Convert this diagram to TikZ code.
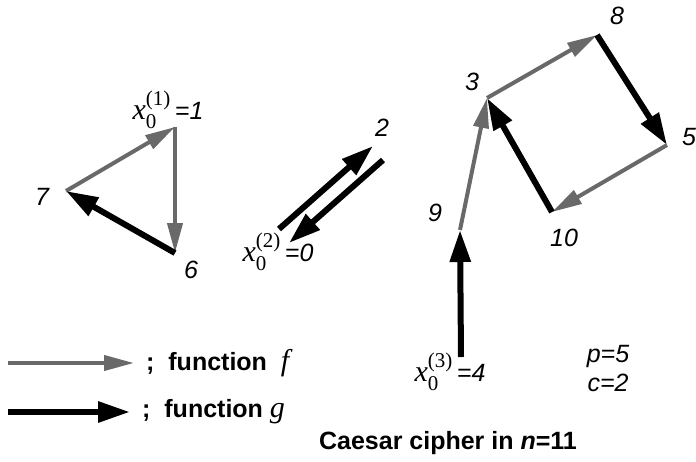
\documentclass[tikz,border=0pt]{standalone}
\usepackage{amsmath}
\usepackage{fontspec}
\setmainfont{Liberation Sans}
\newfontfamily\tms{Liberation Serif}
\definecolor{fgray}{RGB}{105,105,105}
\usetikzlibrary{arrows.meta,positioning}
\newcommand{\xstart}[1]{{\fontsize{30}{30}\selectfont$\text{\tms\mdseries\itshape x}_{\text{\tms\mdseries\upshape 0}}^{\text{\tms\mdseries\upshape(#1)}}$}}
\newcommand{\mapname}[1]{{\fontsize{30}{30}\selectfont\tms\mdseries\itshape #1}}

\begin{document}
\begin{tikzpicture}[x=1pt,y=-1pt,
  fmap/.style={fgray,line width=4pt,-{Triangle[length=30pt,width=15pt]}},
  gmap/.style={black,line width=6pt,-{Triangle[length=32pt,width=20pt]}},
  num/.style={font=\fontsize{25}{28}\selectfont\itshape,inner sep=0pt},
  lgd/.style={font=\fontsize{25}{28}\selectfont\bfseries,anchor=west,inner sep=0pt}]
  \useasboundingbox (0,0) rectangle (696,461);
  % Cycle through 1
  \coordinate (v1) at (175,127);
  \coordinate (v7) at (66,191);
  \coordinate (v6) at (175,253);
  \node[num] (l1) at (168,110) {\xstart{1}\,=1};
  \node[num] (l7) at (42,197) {7};
  \node[num] (l6) at (191,270) {6};
  \draw[fmap] (v7) -- (v1);
  \draw[fmap] (v1) -- (v6);
  \draw[gmap] (v6) -- (v7);
  % Cycle through 0
  \coordinate (n0) at (284,236);
  \coordinate (n2) at (378,153);
  \node[num] (l2) at (382,128) {2};
  \node[num] (l0) at (278,252) {\xstart{2}\,=0};
  \draw[gmap] ([xshift=-5pt,yshift=7pt]n0) -- ([xshift=-5pt,yshift=7pt]n2);
  \draw[gmap] ([xshift=5pt,yshift=-7pt]n2) -- ([xshift=5pt,yshift=-7pt]n0);
  % Cycle through 3
  \coordinate (v3) at (487,98);
  \coordinate (v8) at (597,35);
  \coordinate (v5) at (667,145);
  \coordinate (v10) at (552,212);
  \coordinate (v9) at (460,230);
  \coordinate (v4) at (461,357);
  \node[num] (l3) at (472,82) {3};
  \node[num] (l8) at (617,16) {8};
  \node[num] (l5) at (689,137) {5};
  \node[num] (l10) at (564,238) {10};
  \node[num] (l9) at (435,213) {9};
  \node[num] (l4) at (450,372) {\xstart{3}\,=4};
  \draw[fmap] (v3) -- (v8);
  \draw[gmap] (v8) -- (v5);
  \draw[fmap] (v5) -- (v10);
  \draw[gmap] (v10) -- (v3);
  \draw[fmap] (v9) -- (v3);
  \draw[gmap] (v4) -- (v9);
  % Parameters
  \node[num] (pp) at (608,356) {p=5};
  \node[num] (pc) at (608,383) {c=2};
  % Legend
  \coordinate (lf) at (8,363);
  \coordinate (lg) at (8,412);
  \node[lgd] (tf) at (146,363) {;\ \ function\ \ \mapname{f}};
  \node[lgd] (tg) at (142,412) {;\ \ function\ \mapname{g}};
  \draw[fmap,shorten >=12pt] (lf) -- (tf.west);
  \draw[gmap,shorten >=12pt] (lg) -- (tg.west);
  \node[lgd,anchor=center] (title) at (448,443) {Caesar cipher in \textit{n}=11};
\end{tikzpicture}
\end{document}
